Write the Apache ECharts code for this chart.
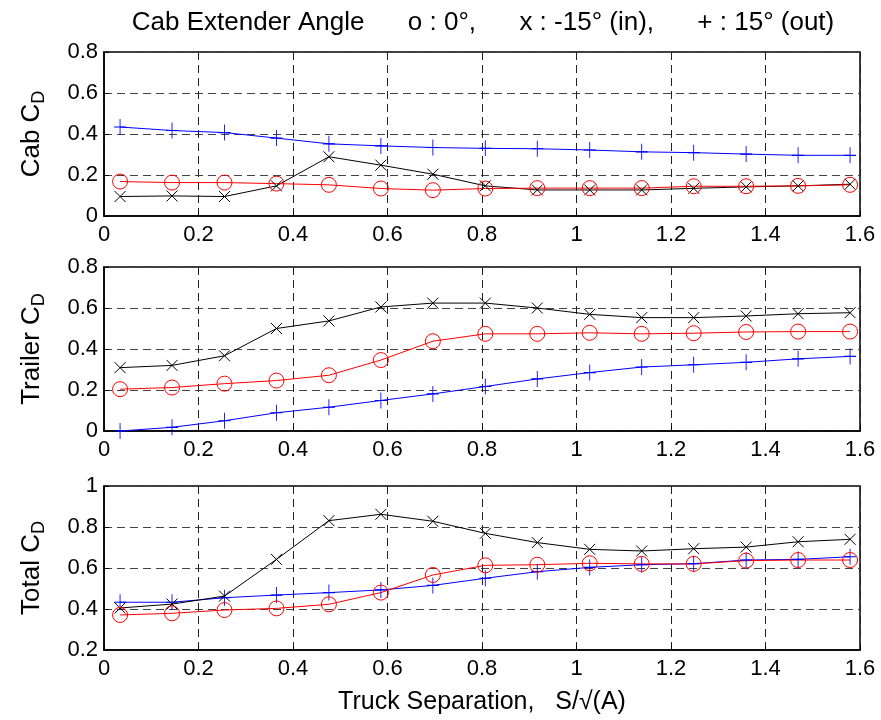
<!DOCTYPE html>
<html lang="en">
<head>
    <meta charset="UTF-8">
    <title>Cab Extender Angle</title>
    <script src="https://cdn.jsdelivr.net/npm/echarts@6/dist/echarts.min.js"></script>
</head>
<body style="margin:0;background:#fff;">
<div id="main" style="width:881px;height:720px;"></div>
<script type="text/javascript">
    // truck separation S/sqrt(A)
    var separation = [0.034, 0.144, 0.255, 0.365, 0.476, 0.586, 0.696, 0.807, 0.917, 1.028, 1.138, 1.248, 1.359, 1.469, 1.579];

    // cab Cd
    var cabZero = [0.168, 0.163, 0.163, 0.158, 0.152, 0.134, 0.126, 0.134, 0.136, 0.136, 0.136, 0.145, 0.145, 0.147, 0.152];
    var cabIn = [0.095, 0.098, 0.095, 0.147, 0.289, 0.248, 0.204, 0.147, 0.127, 0.127, 0.127, 0.135, 0.142, 0.147, 0.155];
    var cabOut = [0.434, 0.417, 0.407, 0.380, 0.352, 0.342, 0.334, 0.330, 0.328, 0.322, 0.313, 0.309, 0.302, 0.296, 0.296];

    // trailer Cd
    var trailerZero = [0.204, 0.212, 0.231, 0.246, 0.272, 0.346, 0.438, 0.474, 0.474, 0.479, 0.474, 0.477, 0.483, 0.485, 0.485];
    var trailerIn = [0.309, 0.320, 0.367, 0.500, 0.537, 0.605, 0.624, 0.624, 0.600, 0.569, 0.553, 0.553, 0.561, 0.572, 0.577];
    var trailerOut = [0.000, 0.018, 0.050, 0.089, 0.116, 0.149, 0.181, 0.217, 0.254, 0.285, 0.312, 0.323, 0.335, 0.352, 0.364];

    // total Cd
    var totalZero = [0.371, 0.379, 0.395, 0.403, 0.423, 0.480, 0.566, 0.613, 0.616, 0.623, 0.620, 0.620, 0.636, 0.639, 0.639];
    var totalIn = [0.405, 0.424, 0.463, 0.642, 0.831, 0.862, 0.828, 0.769, 0.724, 0.691, 0.683, 0.694, 0.702, 0.728, 0.740];
    var totalOut = [0.433, 0.433, 0.455, 0.468, 0.480, 0.493, 0.515, 0.550, 0.582, 0.603, 0.616, 0.621, 0.639, 0.642, 0.655];

    var xTicks = ['0', '0.2', '0.4', '0.6', '0.8', '1', '1.2', '1.4', '1.6'];
    var yNames = ['Cab C', 'Trailer C', 'Total C'];

    var font = 'Liberation Sans, Arial, sans-serif';
    var gridTops = [52, 267, 486];
    var gridH = 164;

    function pairs(ys) {
        var d = [];
        for (var i = 0; i < separation.length; i++) {
            d.push([separation[i], ys[i]]);
        }
        return d;
    }

    var crossPath = 'path://M0,0L10,10M10,0L0,10';
    var plusPath = 'path://M5,0L5,10M0,5L10,5';

    function makeSeries(idx, zero, inward, outward) {
        return [
            {
                type: 'line', xAxisIndex: idx, yAxisIndex: idx, data: pairs(outward),
                symbol: plusPath, symbolSize: [12, 16], showAllSymbol: true, clip: false,
                lineStyle: {color: '#0000ff', width: 1},
                itemStyle: {color: 'none', borderColor: '#0000ff', borderWidth: 1},
                animation: false
            },
            {
                type: 'line', xAxisIndex: idx, yAxisIndex: idx, data: pairs(inward),
                symbol: crossPath, symbolSize: 11, showAllSymbol: true, clip: false,
                lineStyle: {color: '#000000', width: 1},
                itemStyle: {color: 'none', borderColor: '#000000', borderWidth: 1},
                animation: false
            },
            {
                type: 'line', xAxisIndex: idx, yAxisIndex: idx, data: pairs(zero),
                symbol: 'circle', symbolSize: 15, showAllSymbol: true, clip: false,
                lineStyle: {color: '#ff0000', width: 1},
                itemStyle: {color: 'none', borderColor: '#ff0000', borderWidth: 1},
                animation: false
            }
        ];
    }

    var grids = [], xAxes = [], yAxes = [], series = [];
    var yRanges = [[0, 0.8], [0, 0.8], [0.2, 1]];
    for (var g = 0; g < 3; g++) {
        grids.push({
            left: 104, right: 21, top: gridTops[g], height: gridH,
            show: true, borderColor: '#000', borderWidth: 1.5, backgroundColor: '#fff'
        });
        xAxes.push({
            type: 'value', gridIndex: g, min: 0, max: 1.6, interval: 0.2,
            axisLine: {show: true, lineStyle: {color: '#000', width: 1.5}},
            axisTick: {show: true, inside: true, length: 5, lineStyle: {color: '#000'}},
            axisLabel: {
                color: '#000', fontSize: 22, fontFamily: font, margin: 8,
                formatter: function (v) {
                    return xTicks[Math.round(v / 0.2)];
                }
            },
            splitLine: {show: true, lineStyle: {color: '#222', type: [8, 5], width: 1}},
            name: g === 2 ? 'Truck Separation,   S/\u221A(A)' : '',
            nameLocation: 'middle', nameGap: 40,
            nameTextStyle: {color: '#000', fontSize: 25, fontFamily: font}
        });
        yAxes.push({
            type: 'value', gridIndex: g, min: yRanges[g][0], max: yRanges[g][1], interval: 0.2,
            axisLine: {show: true, lineStyle: {color: '#000', width: 1.5}},
            axisTick: {show: true, inside: true, length: 5, lineStyle: {color: '#000'}},
            axisLabel: {color: '#000', fontSize: 22, fontFamily: font, margin: 6},
            splitLine: {show: true, lineStyle: {color: '#444', type: [8, 5], width: 1}},
            name: '{a|' + yNames[g] + '}{sub|D}',
            nameLocation: 'middle', nameGap: 56, nameRotate: 90,
            nameTextStyle: {
                rich: {
                    a: {fontSize: 26, fontFamily: font, color: '#000', lineHeight: 32},
                    sub: {fontSize: 18, fontFamily: font, color: '#000', lineHeight: 19, verticalAlign: 'bottom'}
                }
            }
        });
    }
    series = series.concat(makeSeries(0, cabZero, cabIn, cabOut));
    series = series.concat(makeSeries(1, trailerZero, trailerIn, trailerOut));
    series = series.concat(makeSeries(2, totalZero, totalIn, totalOut));

    var myChart = echarts.init(document.getElementById('main'));
    myChart.setOption({
        backgroundColor: '#fff',
        animation: false,
        title: {
            text: 'Cab Extender Angle      o : 0\u00B0,      x : -15\u00B0 (in),      + : 15\u00B0 (out)',
            left: 478, top: 5, textAlign: 'center',
            textStyle: {color: '#000', fontSize: 26, fontWeight: 'normal', fontFamily: font}
        },
        grid: grids,
        xAxis: xAxes,
        yAxis: yAxes,
        series: series
    });
</script>
</body>
</html>
